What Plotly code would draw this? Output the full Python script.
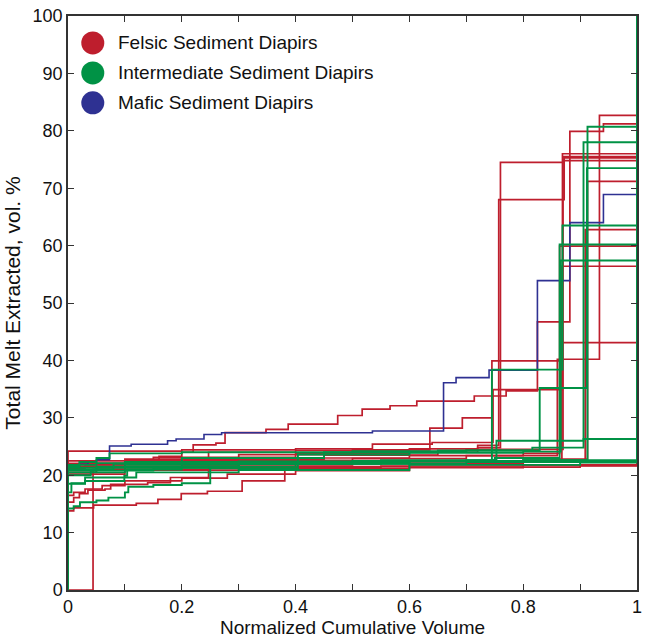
import plotly.graph_objects as go

# ---------------- data ----------------
felsic_x = [
    [0, 0, 0.01, 0.045, 0.12, 0.158, 0.199, 0.245, 0.306, 0.381, 0.6, 0.9, 1],
    [0, 0.044, 0.25, 0.55, 0.8, 1],
    [0, 0, 0.01, 0.02, 0.035, 0.065, 0.075, 0.14, 0.18, 0.247, 0.4, 0.6, 0.72, 0.757, 0.872, 1],
    [0, 0, 0.2, 0.4, 0.535, 0.64, 0.747, 0.869, 1],
    [0, 0, 0.1, 0.3, 0.5, 0.636, 0.693, 0.745, 0.869, 1],
    [0, 0, 0.1, 0.3, 0.5, 0.7, 0.86, 0.934, 1],
    [0, 0, 0.05, 0.2, 0.45, 0.65, 0.72, 0.76, 0.870, 1],
    [0, 0, 0.03, 0.1, 0.16, 0.2, 0.22, 0.26, 0.276, 0.348, 0.387, 0.474, 0.517, 0.566,
     0.613, 0.714, 0.77, 0.825, 0.882, 0.941, 1],
    [0, 0, 0.05, 0.2, 0.5, 0.8, 0.909, 1],
    [0, 0, 0.1, 0.3, 0.6, 0.85, 0.913, 1],
    [0, 0, 0.1, 0.35, 0.6, 0.8, 0.864, 1],
    [0, 0, 0.1, 0.3, 0.6, 0.8, 0.868, 1],
    [0, 0, 0.15, 0.4, 0.6, 0.7, 0.87, 1],
    [0, 0, 0.01, 0.03, 0.06, 0.1, 0.2, 0.28, 0.4, 0.6, 0.8, 1],
]
felsic_y = [
    [0, 13.8, 14.3, 14.8, 15.1, 15.8, 16.8, 17.2, 19.0, 21.2, 21.4, 21.6, 100],
    [0, 21.0, 21.3, 21.6, 21.8, 100],
    [0, 15.3, 16.1, 16.8, 17.4, 17.6, 18.4, 18.7, 19.6, 24.0, 24.3, 24.6, 25.2, 68.0, 75.3, 100],
    [0, 24.2, 24.4, 24.6, 25.4, 25.7, 34.9, 76.0, 100],
    [0, 22.0, 22.8, 23.6, 24.4, 28.2, 30.0, 39.9, 43.1, 100],
    [0, 21.8, 22.2, 22.6, 22.9, 23.4, 40.2, 82.7, 100],
    [0, 21.5, 22.0, 22.8, 23.5, 24.0, 24.8, 74.5, 75.5, 100],
    [0, 21.2, 21.8, 22.4, 23.3, 24.0, 25.3, 25.6, 27.4, 28.0, 28.9, 30.4, 31.5, 32.1,
     32.9, 33.8, 34.7, 46.7, 79.9, 81.2, 100],
    [0, 20.5, 21.3, 21.8, 22.3, 22.6, 62.8, 100],
    [0, 21.0, 21.6, 22.1, 22.5, 22.8, 71.2, 100],
    [0, 22.0, 22.5, 23.0, 23.4, 23.8, 59.9, 100],
    [0, 20.2, 20.9, 21.5, 22.0, 22.3, 56.4, 100],
    [0, 22.5, 23.1, 23.7, 24.1, 24.5, 74.8, 100],
    [0, 16.5, 17.0, 17.6, 18.2, 19.0, 19.5, 20.2, 20.8, 21.3, 21.7, 100],
]

intermediate_x = [
    [0, 0, 0.05, 0.2, 0.4, 0.6, 0.745, 0.869, 1],
    [0, 0, 0.1, 0.3, 0.5, 0.7, 0.753, 0.906, 1],
    [0, 0, 0.02, 0.05, 0.073, 0.2, 0.5, 0.7, 0.829, 0.912, 1],
    [0, 0, 0.04, 0.15, 0.3, 0.55, 0.75, 0.864, 1],
    [0, 0, 0.03, 0.12, 0.25, 0.404, 0.6, 0.8, 0.866, 1],
    [0, 0, 0.08, 0.2, 0.45, 0.65, 0.816, 0.906, 1],
    [0, 0, 0.1, 0.3, 0.6, 0.8, 0.913, 1],
    [0, 0, 0.01, 0.021, 0.05, 0.071, 0.1, 0.106, 0.15, 0.2, 0.25, 0.3, 0.6, 0.9, 1],
    [0, 0, 0.006, 0.03, 0.099, 0.104, 0.2, 0.4, 0.7, 1],
    [0, 0, 0.05, 0.1, 0.3, 0.5, 0.8, 1],
]
intermediate_y = [
    [0, 20.8, 21.5, 22.0, 22.3, 22.5, 38.4, 63.5, 100],
    [0, 21.3, 21.8, 22.2, 22.4, 22.6, 26.0, 26.3, 100],
    [0, 21.6, 22.3, 23.0, 23.8, 24.0, 24.2, 24.3, 35.2, 73.5, 100],
    [0, 20.0, 20.8, 21.3, 22.0, 22.6, 23.0, 60.2, 100],
    [0, 18.5, 19.6, 20.5, 21.2, 23.6, 23.9, 24.1, 57.4, 100],
    [0, 21.0, 22.0, 23.0, 24.0, 24.3, 24.8, 78.0, 100],
    [0, 20.5, 21.3, 22.0, 22.4, 22.6, 80.7, 100],
    [0, 14.2, 14.6, 15.3, 15.6, 16.1, 17.0, 18.0, 18.3, 18.6, 20.5, 20.9, 21.8, 22.2, 100],
    [0, 17.0, 18.6, 19.0, 19.9, 21.0, 21.5, 22.0, 22.3, 100],
    [0, 21.8, 22.1, 22.3, 22.4, 22.5, 22.6, 100],
]

mafic_x = [
    [0, 0, 0.02, 0.035, 0.05, 0.073, 0.111, 0.175, 0.19, 0.239, 0.27, 0.535, 0.66,
     0.682, 0.74, 0.825, 0.882, 0.941, 1],
]
mafic_y = [
    [0, 21.5, 21.9, 22.3, 22.7, 25.1, 25.4, 26.0, 26.3, 27.1, 27.4, 27.7, 36.1,
     37.0, 38.3, 53.9, 64.0, 68.9, 100],
]

group_names = ["Felsic Sediment Diapirs", "Intermediate Sediment Diapirs", "Mafic Sediment Diapirs"]
group_colors = ["#BE1E2D", "#009245", "#2E3192"]

x_tick_vals = [0, 0.1, 0.2, 0.3, 0.4, 0.5, 0.6, 0.7, 0.8, 0.9, 1]
x_tick_text = ["0", "", "0.2", "", "0.4", "", "0.6", "", "0.8", "", "1"]
y_tick_vals = [0, 10, 20, 30, 40, 50, 60, 70, 80, 90, 100]

# ---------------- figure ----------------
fig = go.Figure()

def add_group(xs, ys, color, width):
    for xv, yv in zip(xs, ys):
        fig.add_trace(go.Scatter(x=xv, y=yv, mode="lines", line_shape="hv",
                                 line=dict(color=color, width=width),
                                 showlegend=False, hoverinfo="skip"))

add_group(felsic_x, felsic_y, group_colors[0], 1.7)
add_group(mafic_x, mafic_y, group_colors[2], 1.6)
add_group(intermediate_x, intermediate_y, group_colors[1], 1.9)

FONT = "Liberation Sans, Arial, Helvetica, sans-serif"

# legend drawn as circles + text
L, R, T, B = 68, 4, 16, 47
W, H = 646 - L - R, 638 - T - B
for i, (name, col) in enumerate(zip(group_names, group_colors)):
    cy = 43 + 30 * i
    py = (638 - B - cy) / H
    px = (93 - L) / W
    fig.add_shape(type="circle", xref="paper", yref="paper",
                  xsizemode="pixel", ysizemode="pixel",
                  xanchor=px, yanchor=py, x0=-11.5, x1=11.5, y0=-11.5, y1=11.5,
                  fillcolor=col, line=dict(color=col, width=0))
    fig.add_annotation(xref="paper", yref="paper", x=(116 - L) / W, y=py,
                       xanchor="left", yanchor="middle", showarrow=False,
                       text=name, font=dict(family=FONT, size=19, color="#111"))

axis_common = dict(showline=True, linecolor="#333", linewidth=1.5, mirror="allticks",
                   ticks="inside", ticklen=6, tickwidth=1.2, tickcolor="#333",
                   showgrid=False, zeroline=False,
                   tickfont=dict(family=FONT, size=18, color="#111"))

fig.update_xaxes(range=[0, 1], tickvals=x_tick_vals, ticktext=x_tick_text,
                 title=dict(text="Normalized Cumulative Volume", standoff=3,
                            font=dict(family=FONT, size=19, color="#111")),
                 **axis_common)
fig.update_yaxes(range=[0, 100], tickvals=y_tick_vals,
                 title=dict(text="Total Melt Extracted, vol. %", standoff=6,
                            font=dict(family=FONT, size=21, color="#111")),
                 **axis_common)

fig.update_layout(width=646, height=638, margin=dict(l=L, r=R, t=T, b=B),
                  paper_bgcolor="white", plot_bgcolor="white", showlegend=False)

fig.write_html("out.html")
